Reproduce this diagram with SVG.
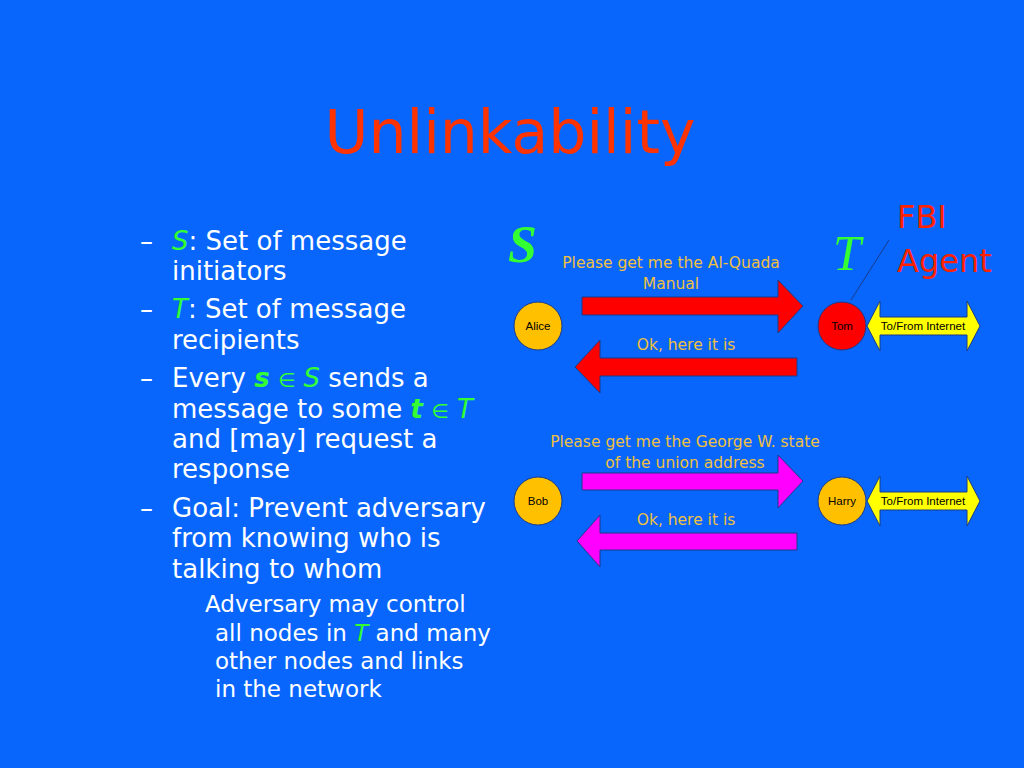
<svg xmlns="http://www.w3.org/2000/svg" width="1024" height="768" viewBox="0 0 1024 768">
<style>
.b{font-family:"DejaVu Sans",Verdana,sans-serif;font-size:26px;fill:#ffffff}
.s{font-family:"DejaVu Sans",Verdana,sans-serif;font-size:23px;fill:#ffffff}
.g{fill:#33ff33}
.e{fill:#33ff33;font-size:20px}
.m{font-family:"DejaVu Sans",Verdana,sans-serif;font-size:15.5px;fill:#f0c040;text-anchor:middle}
.n{font-family:"Liberation Sans",Arial,sans-serif;font-size:11.5px;fill:#000000;text-anchor:middle}
.ys{fill:#ffff00;stroke:#1a3a8a;stroke-width:1}
.node{fill:#ffc000;stroke:#1a3a8a;stroke-width:1}
.red{fill:#ff0000;stroke:#1a3a8a;stroke-width:1}
.mag{fill:#ff00ff;stroke:#1a3a8a;stroke-width:1}
</style>
<rect x="0" y="0" width="1024" height="768" fill="#0866fc"/>
<text x="510" y="153" font-family="'DejaVu Sans',Verdana,sans-serif" font-size="60" fill="#ff3300" text-anchor="middle">Unlinkability</text>

<g id="bullets">
<text class="b" x="140" y="250">–</text>
<text class="b" x="172" y="250"><tspan class="g" font-style="italic">S</tspan>: Set of message</text>
<text class="b" x="172" y="280">initiators</text>
<text class="b" x="140" y="318">–</text>
<text class="b" x="172" y="318"><tspan class="g" font-style="italic">T</tspan>: Set of message</text>
<text class="b" x="172" y="349">recipients</text>
<text class="b" x="140" y="387">–</text>
<text class="b" x="172" y="387">Every <tspan class="g" font-style="italic" font-weight="bold">s</tspan> <tspan class="e">∈</tspan> <tspan class="g" font-style="italic">S</tspan> sends a</text>
<text class="b" x="172" y="418">message to some <tspan class="g" font-style="italic" font-weight="bold">t</tspan> <tspan class="e">∈</tspan> <tspan class="g" font-style="italic">T</tspan></text>
<text class="b" x="172" y="448">and [may] request a</text>
<text class="b" x="172" y="478">response</text>
<text class="b" x="140" y="517">–</text>
<text class="b" x="172" y="517">Goal: Prevent adversary</text>
<text class="b" x="172" y="547">from knowing who is</text>
<text class="b" x="172" y="578">talking to whom</text>
<text class="s" x="205" y="612">Adversary may control</text>
<text class="s" x="215" y="641">all nodes in <tspan class="g" font-style="italic">T</tspan> and many</text>
<text class="s" x="215" y="669">other nodes and links</text>
<text class="s" x="215" y="697">in the network</text>
</g>

<text x="508" y="262" font-family="'Liberation Serif','Times New Roman',serif" font-size="52" font-style="italic" font-weight="bold" fill="#33ff33">S</text>
<text x="833" y="270" font-family="'Liberation Serif','Times New Roman',serif" font-size="50" font-style="italic" fill="#33ff33">T</text>
<text x="897" y="228" font-family="'DejaVu Sans',Verdana,sans-serif" font-size="32" fill="#ff2200">FBI</text>
<text x="897" y="272" font-family="'DejaVu Sans',Verdana,sans-serif" font-size="32" fill="#ff2200">Agent</text>

<g id="connectors">
<line x1="851" y1="300" x2="889" y2="240" stroke="#1a3a8a" stroke-width="1"/>
<polygon class="red" points="582,297 778,297 778,280 803,306 778,333 778,315 582,315"/>
<polygon class="red" points="797,358 600,358 600,340 575,367 600,393 600,376 797,376"/>
<polygon class="mag" points="582,473 778,473 778,455 803,481 778,508 778,490 582,490"/>
<polygon class="mag" points="797,533 600,533 600,515 577,541 600,567 600,550 797,550"/>
<polygon class="ys" points="867,326 880,301 880,317 967,317 967,301 980,326 967,351 967,335 880,335 880,351"/>
<polygon class="ys" points="867,501 880,476 880,492 967,492 967,476 980,501 967,526 967,510 880,510 880,526"/>
</g>

<g id="labels">
<text class="m" x="671" y="268">Please get me the Al-Quada</text>
<text class="m" x="671" y="289">Manual</text>
<text class="m" x="686" y="350">Ok, here it is</text>
<text class="m" x="685" y="447">Please get me the George W. state</text>
<text class="m" x="685" y="468">of the union address</text>
<text class="m" x="686" y="525">Ok, here it is</text>
<text class="n" x="923" y="330">To/From Internet</text>
<text class="n" x="923" y="505">To/From Internet</text>
</g>

<g id="alice"><circle class="node" cx="538" cy="326" r="24"/><text class="n" x="538" y="330">Alice</text></g>
<g id="tom"><circle class="red" cx="842" cy="326" r="24"/><text class="n" x="842" y="330">Tom</text></g>
<g id="bob"><circle class="node" cx="538" cy="501" r="24"/><text class="n" x="538" y="505">Bob</text></g>
<g id="harry"><circle class="node" cx="842" cy="501" r="24"/><text class="n" x="842" y="505">Harry</text></g>
</svg>
